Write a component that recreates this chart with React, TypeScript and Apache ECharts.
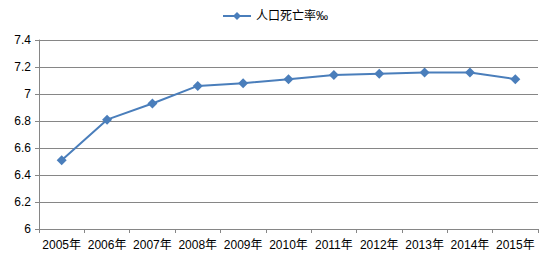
import React, { useEffect, useRef } from "react";
import * as echarts from "echarts";

const categories = ["2005年", "2006年", "2007年", "2008年", "2009年", "2010年", "2011年", "2012年", "2013年", "2014年", "2015年"];
const deathRate = [6.51, 6.81, 6.93, 7.06, 7.08, 7.11, 7.14, 7.15, 7.16, 7.16, 7.11];
const seriesName = "人口死亡率‰";

export default function App() {
  const ref = useRef<HTMLDivElement>(null);
  useEffect(() => {
    document.body.style.margin = "0";
    const chart = echarts.init(ref.current!, null, { renderer: "svg" });
    chart.setOption({
      animation: false,
      backgroundColor: "#ffffff",
      textStyle: { fontFamily: "Liberation Sans, Noto Sans CJK SC, sans-serif" },
      legend: {
        top: 5,
        left: "center",
        itemWidth: 28,
        itemHeight: 10,
        itemGap: 4,
        textStyle: { fontSize: 12, color: "#000" },
        data: [seriesName],
      },
      grid: { left: 39, right: 12, top: 40, bottom: 28 },
      xAxis: {
        type: "category",
        data: categories,
        boundaryGap: true,
        axisLine: { lineStyle: { color: "#868686" } },
        axisTick: { show: true, length: 4, lineStyle: { color: "#868686" } },
        axisLabel: { color: "#000", fontSize: 12, margin: 10, interval: 0 },
      },
      yAxis: {
        type: "value",
        min: 6,
        max: 7.4,
        interval: 0.2,
        axisLine: { show: true, lineStyle: { color: "#868686" } },
        axisTick: { show: true, length: 4, lineStyle: { color: "#868686" } },
        axisLabel: {
          color: "#000",
          fontSize: 12,
          margin: 8,
          formatter: (v: number) => String(Math.round(v * 10) / 10),
        },
        splitLine: { lineStyle: { color: "#868686", width: 1 } },
      },
      series: [
        {
          name: seriesName,
          type: "line",
          data: deathRate,
          symbol: "diamond",
          symbolSize: 10,
          itemStyle: { color: "#4a7ebb" },
          lineStyle: { color: "#4a7ebb", width: 2 },
        },
      ],
    });
    return () => chart.dispose();
  }, []);
  return <div ref={ref} style={{ width: 550, height: 257 }} />;
}
